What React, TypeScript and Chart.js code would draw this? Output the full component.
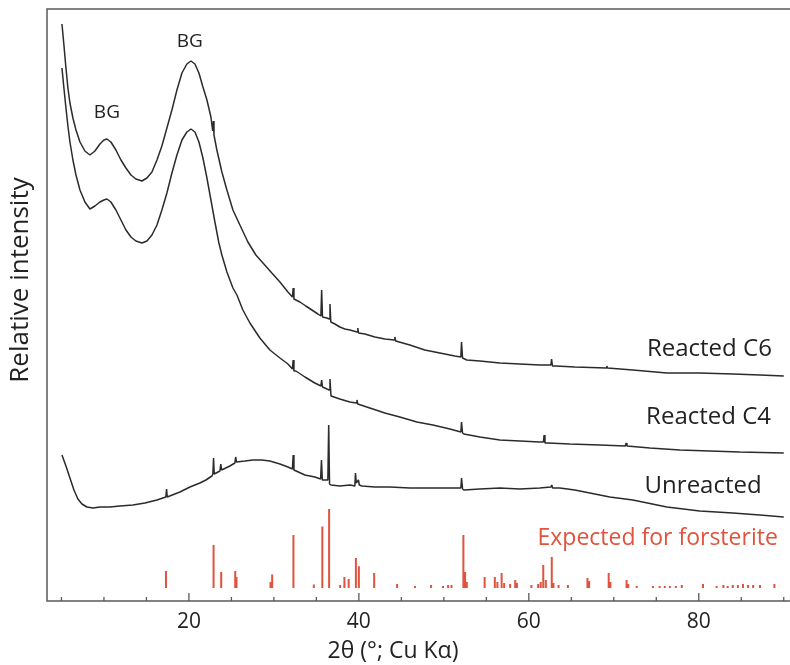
import React, { useEffect, useRef } from "react";
import { Chart, registerables } from "chart.js";

Chart.register(...registerables);

// 2θ (degrees) vs relative intensity (arbitrary units, stacked offsets)
const reactedC6: [number, number][] = [
  [5.06, 577], [5.29, 556], [5.53, 533], [5.76, 513], [6.0, 498], [6.35, 483], [6.71, 471], [7.18, 459],
  [7.76, 450], [8.35, 446], [8.94, 450], [9.53, 457], [10.0, 461], [10.35, 462], [10.82, 459], [11.41, 451],
  [12.0, 441], [12.59, 433], [13.18, 426], [13.76, 422], [14.47, 420], [15.06, 423], [15.65, 429], [16.24, 441],
  [16.82, 455], [17.41, 473], [18.0, 491], [18.59, 511], [19.18, 528], [19.76, 537], [20.24, 540], [20.71, 537],
  [21.18, 528], [21.65, 514], [22.12, 501], [22.59, 484], [22.8, 470], [22.88, 480], [22.95, 466], [23.29, 451],
  [23.88, 429], [24.47, 411], [25.18, 391], [26.0, 376], [26.94, 359], [27.88, 346], [28.82, 337], [29.76, 328],
  [30.71, 319], [31.65, 309], [32.18, 304], [32.27, 313], [32.36, 302], [33.06, 299], [33.76, 295], [34.47, 291],
  [35.18, 287], [35.53, 285], [35.62, 311], [35.72, 284], [36.24, 283], [36.52, 282], [36.6, 297], [36.7, 279],
  [37.18, 277], [37.76, 274], [38.35, 272], [38.94, 271], [39.8, 269], [39.88, 273], [39.96, 268], [40.71, 267],
  [41.88, 264], [43.06, 262], [44.15, 261], [44.24, 264], [44.33, 260], [46.0, 256], [47.76, 251], [49.53, 248],
  [51.29, 245], [52.0, 244], [52.08, 259], [52.2, 243], [52.7, 241], [54.24, 240], [56.59, 238], [58.94, 237],
  [61.29, 236], [62.6, 236], [62.68, 242], [62.78, 235], [63.18, 235], [65.41, 234], [69.1, 233], [69.18, 235],
  [69.26, 233], [72.24, 231], [76.24, 228], [80.1, 228], [84.0, 227], [87.2, 226], [90.0, 225],
];

const reactedC4: [number, number][] = [
  [5.06, 533], [5.29, 513], [5.53, 493], [5.76, 475], [6.0, 459], [6.35, 441], [6.71, 426], [7.18, 411],
  [7.76, 399], [8.35, 392], [8.94, 395], [9.53, 399], [10.0, 401], [10.35, 402], [10.82, 399], [11.41, 391],
  [12.0, 381], [12.59, 371], [13.18, 364], [13.76, 360], [14.47, 358], [15.06, 360], [15.65, 366], [16.24, 376],
  [16.82, 391], [17.41, 408], [18.0, 428], [18.59, 446], [19.18, 461], [19.76, 469], [20.24, 472], [20.71, 469],
  [21.18, 459], [21.65, 443], [22.12, 423], [22.59, 401], [23.06, 379], [23.53, 358], [23.88, 346], [24.47, 329],
  [25.18, 313], [25.65, 306], [26.35, 291], [27.18, 278], [28.35, 263], [29.53, 251], [30.71, 243], [31.65, 237],
  [32.18, 232], [32.27, 241], [32.36, 230], [32.59, 230], [33.65, 224], [34.82, 218], [35.53, 215], [35.62, 221],
  [35.72, 214], [36.24, 212], [36.52, 211], [36.6, 222], [36.72, 205], [37.76, 202], [38.94, 199], [39.7, 198],
  [39.78, 201], [39.86, 197], [41.29, 193], [43.06, 188], [44.82, 184], [46.82, 179], [48.71, 176], [50.71, 172],
  [52.0, 169], [52.08, 179], [52.2, 168], [52.35, 167], [54.24, 164], [56.59, 161], [58.94, 160], [61.29, 159],
  [61.72, 159], [61.8, 166], [61.9, 158], [62.24, 158], [64.82, 157], [68.35, 156], [71.35, 155], [71.45, 158],
  [71.55, 155], [74.24, 153], [77.76, 151], [81.3, 150], [84.82, 149], [90.0, 148],
];

const unreacted: [number, number][] = [
  [5.06, 146], [5.53, 135], [6.0, 123], [6.47, 111], [6.94, 102], [7.41, 97], [8.0, 94], [8.71, 93],
  [9.53, 94], [10.71, 94], [11.88, 95], [13.41, 96], [14.82, 98], [16.24, 101], [17.29, 104], [17.37, 112],
  [17.45, 104], [18.94, 109], [20.12, 114], [21.29, 118], [22.0, 121], [22.71, 125], [22.82, 127], [22.9, 143],
  [22.98, 127], [23.65, 130], [23.75, 137], [23.85, 131], [24.82, 135], [25.41, 138], [25.5, 144], [25.6, 139],
  [26.59, 140], [27.53, 141], [28.59, 141], [29.53, 140], [30.71, 137], [31.65, 134], [32.18, 132], [32.27, 146],
  [32.36, 131], [33.65, 126], [34.82, 124], [35.5, 122], [35.6, 141], [35.7, 121], [36.35, 121], [36.45, 176],
  [36.55, 117], [36.71, 116], [37.76, 115], [38.94, 116], [39.53, 115], [39.6, 128], [39.7, 118], [39.95, 121],
  [40.05, 116], [40.35, 115], [41.88, 114], [43.65, 114], [46.0, 113], [48.35, 113], [50.71, 113], [52.0, 113],
  [52.08, 123], [52.2, 112], [52.35, 111], [54.24, 112], [56.59, 113], [58.94, 112], [61.29, 113], [62.6, 114],
  [62.7, 116], [62.8, 113], [63.65, 113], [65.41, 111], [67.18, 108], [69.53, 104], [72.24, 101], [76.24, 94],
  [80.12, 90], [84.0, 88], [87.18, 86], [90.0, 84],
];

// Expected forsterite reflections: [2θ, relative stick height]
const forsteriteSticks: [number, number][] = [
  [17.3, 17], [22.9, 43], [23.8, 16], [25.45, 17], [25.6, 11], [29.6, 6], [29.8, 13.5], [32.3, 53],
  [34.7, 3.5], [35.7, 61.5], [36.5, 79], [37.8, 3], [38.3, 11], [38.8, 9], [39.65, 30], [40.0, 21.7],
  [41.8, 15], [44.5, 4], [46.6, 2], [48.5, 3], [49.9, 2], [50.5, 3], [50.9, 3], [52.3, 53], [52.5, 16],
  [52.7, 6], [54.8, 11], [56.0, 11], [56.3, 6], [56.8, 15], [57.1, 5], [57.8, 4], [58.4, 8], [58.6, 5],
  [60.3, 3], [61.1, 4], [61.4, 6], [61.7, 23], [62.0, 8], [62.7, 31], [62.9, 5], [63.5, 3], [64.6, 3],
  [66.9, 10], [67.1, 7], [69.4, 15], [69.6, 6], [71.5, 8], [71.7, 4], [72.7, 2], [74.6, 2], [75.4, 2],
  [76.0, 2], [76.6, 2], [77.3, 2], [78.0, 3], [80.5, 4], [82.1, 2], [82.9, 3], [83.4, 2], [84.0, 3],
  [84.6, 3], [85.2, 4], [85.8, 3], [86.4, 3], [87.2, 3], [88.9, 4],
];
const stickBaseline = 13;

const majorTicks = [20, 40, 60, 80];
const minorTicks = [5, 10, 15, 25, 30, 35, 45, 50, 55, 65, 70, 75, 85, 90];

const seriesLabels = ["Reacted C6", "Reacted C4", "Unreacted", "Expected for forsterite"];
const xTitle = "2θ (°; Cu Kα)";
const yTitle = "Relative intensity";

const FONT = "'Open Sans', 'DejaVu Sans', sans-serif";
const LINE = "#2b2b2b";
const RED = "#e0533d";
const AXIS = "#5a5a5a";

// annotation anchors in data coordinates
const annotations = [
  { text: "BG", x: 10.35, y: 488, align: "center" as CanvasTextAlign, color: "#222", size: 19 },
  { text: "BG", x: 20.1, y: 559, align: "center" as CanvasTextAlign, color: "#222", size: 19 },
  { text: seriesLabels[0], x: 88.6, y: 251.5, align: "right" as CanvasTextAlign, color: "#222", size: 24 },
  { text: seriesLabels[1], x: 88.5, y: 184, align: "right" as CanvasTextAlign, color: "#222", size: 24 },
  { text: seriesLabels[2], x: 87.4, y: 115, align: "right" as CanvasTextAlign, color: "#222", size: 24 },
  { text: seriesLabels[3], x: 89.3, y: 63, align: "right" as CanvasTextAlign, color: RED, size: 23 },
];

const decorPlugin = {
  id: "decor",
  afterDraw(chart: any) {
    const { ctx, chartArea, scales } = chart;
    const xs = scales.x;
    const ys = scales.y;
    const { left, top, bottom } = chartArea;
    const W = chart.width;
    ctx.save();
    // frame: left, top, bottom
    ctx.strokeStyle = AXIS;
    ctx.lineWidth = 1.5;
    ctx.beginPath();
    ctx.moveTo(W, top);
    ctx.lineTo(left, top);
    ctx.lineTo(left, bottom);
    ctx.lineTo(W, bottom);
    ctx.stroke();
    // inward ticks
    ctx.lineWidth = 1.3;
    ctx.beginPath();
    for (const v of majorTicks) {
      const px = xs.getPixelForValue(v);
      ctx.moveTo(px, bottom);
      ctx.lineTo(px, bottom - 8);
    }
    for (const v of minorTicks) {
      const px = xs.getPixelForValue(v);
      ctx.moveTo(px, bottom);
      ctx.lineTo(px, bottom - 4);
    }
    ctx.stroke();
    // tick labels
    ctx.fillStyle = "#222";
    ctx.textAlign = "center";
    ctx.textBaseline = "middle";
    ctx.font = `21px ${FONT}`;
    for (const v of majorTicks) {
      ctx.fillText(String(v), xs.getPixelForValue(v), bottom + 21);
    }
    // annotations
    for (const a of annotations) {
      ctx.font = `${a.size}px ${FONT}`;
      ctx.fillStyle = a.color;
      ctx.textAlign = a.align;
      ctx.fillText(a.text, xs.getPixelForValue(a.x), ys.getPixelForValue(a.y));
    }
    // axis titles
    ctx.fillStyle = "#222";
    ctx.textAlign = "center";
    ctx.font = `23px ${FONT}`;
    ctx.fillText(xTitle, 393, 651);
    ctx.translate(21, 280);
    ctx.rotate(-Math.PI / 2);
    ctx.font = `26px ${FONT}`;
    ctx.fillText(yTitle, 0, 0);
    ctx.restore();
  },
};

export default function App() {
  const ref = useRef<HTMLCanvasElement | null>(null);
  useEffect(() => {
    document.body.style.margin = "0";
    const canvas = ref.current;
    if (!canvas) return;
    const toPts = (arr: [number, number][]) => arr.map(([x, y]) => ({ x, y }));
    const stickPts: { x: number; y: number | null }[] = [];
    for (const [x, h] of forsteriteSticks) {
      stickPts.push({ x, y: stickBaseline }, { x, y: stickBaseline + h }, { x, y: null });
    }
    const lineDs = (label: string, data: any[]) => ({
      label,
      data,
      borderColor: LINE,
      borderWidth: 1.5,
      borderJoinStyle: "bevel",
      pointRadius: 0,
      tension: 0,
      fill: false,
    });
    const chart = new Chart(canvas, {
      type: "line",
      data: {
        datasets: [
          lineDs(seriesLabels[0], toPts(reactedC6)),
          lineDs(seriesLabels[1], toPts(reactedC4)),
          lineDs(seriesLabels[2], toPts(unreacted)),
          {
            label: seriesLabels[3],
            data: stickPts,
            borderColor: RED,
            borderWidth: 2,
            pointRadius: 0,
            spanGaps: false,
            fill: false,
          } as any,
        ] as any,
      },
      options: {
        animation: false,
        responsive: false,
        devicePixelRatio: 1,
        layout: { padding: { left: 47, right: 2, top: 9, bottom: 0 } },
        plugins: { legend: { display: false }, tooltip: { enabled: false } },
        scales: {
          x: {
            type: "linear",
            min: 3.3,
            max: 90.5,
            grid: { display: false, drawTicks: false },
            border: { display: false },
            afterFit: (scale: any) => {
              scale.height = 64;
            },
            ticks: { display: false },
          },
          y: {
            type: "linear",
            display: false,
            min: 0,
            max: 592,
          },
        },
      },
      plugins: [decorPlugin],
    });
    return () => chart.destroy();
  }, []);
  return (
    <div style={{ width: 790, height: 665 }}>
      <canvas ref={ref} width={790} height={665} style={{ display: "block" }} />
    </div>
  );
}
